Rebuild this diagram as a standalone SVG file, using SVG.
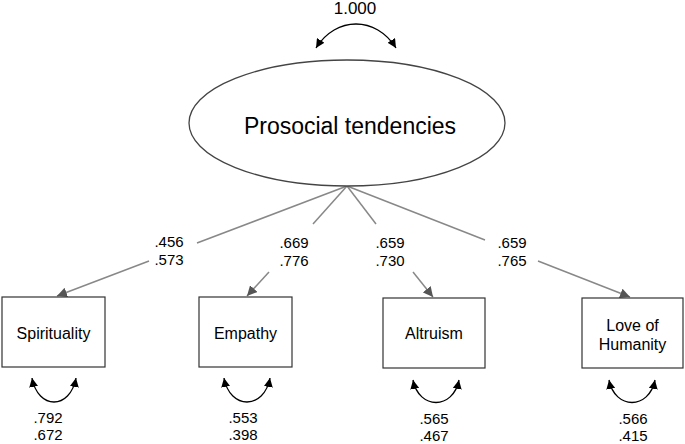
<svg xmlns="http://www.w3.org/2000/svg" width="685" height="444" viewBox="0 0 685 444">
<defs>
<marker id="ga" viewBox="0 0 10 10" refX="10" refY="5" markerWidth="10" markerHeight="10" markerUnits="userSpaceOnUse" orient="auto">
<path d="M0,0 L10,5 L0,10 z" fill="#555"/>
</marker>
<marker id="ba" viewBox="0 0 10 10" refX="10" refY="5" markerWidth="9" markerHeight="9" markerUnits="userSpaceOnUse" orient="auto-start-reverse">
<path d="M0,0 L10,5 L0,10 z" fill="#000"/>
</marker>
</defs>
<style>
text{font-family:"Liberation Sans",Arial,sans-serif;fill:#000;text-anchor:middle}
.box{fill:#fff;stroke:#333;stroke-width:1.2}
.lbl{font-size:16px}
.num{font-size:15px}
.ld{stroke:#888;stroke-width:1.5;fill:none}
.cv{stroke:#000;stroke-width:1.3;fill:none}
</style>
<g id="connectors">
<path class="cv" d="M316,48 C336,16 376,16 396,48" marker-start="url(#ba)" marker-end="url(#ba)"/>
<line class="ld" x1="347" y1="186" x2="197" y2="243"/>
<line class="ld" x1="149" y1="261" x2="57" y2="296" marker-end="url(#ga)"/>
<line class="ld" x1="347" y1="186" x2="313" y2="224"/>
<line class="ld" x1="269" y1="272" x2="247" y2="296" marker-end="url(#ga)"/>
<line class="ld" x1="347" y1="186" x2="376" y2="224"/>
<line class="ld" x1="413" y1="272" x2="433" y2="297" marker-end="url(#ga)"/>
<line class="ld" x1="347" y1="186" x2="485" y2="240"/>
<line class="ld" x1="538" y1="261" x2="630" y2="297" marker-end="url(#ga)"/>
<path class="cv" d="M32,378 C38,410 70,410 76,378" marker-start="url(#ba)" marker-end="url(#ba)"/>
<path class="cv" d="M224,378 C230,410 264,410 270,378" marker-start="url(#ba)" marker-end="url(#ba)"/>
<path class="cv" d="M413,380 C419,410 453,410 459,380" marker-start="url(#ba)" marker-end="url(#ba)"/>
<path class="cv" d="M609,380 C615,410 649,410 655,380" marker-start="url(#ba)" marker-end="url(#ba)"/>
<text class="num" x="169" y="247">.456</text>
<text class="num" x="169" y="265">.573</text>
<text class="num" x="294" y="248">.669</text>
<text class="num" x="294" y="266">.776</text>
<text class="num" x="390" y="248">.659</text>
<text class="num" x="390" y="266">.730</text>
<text class="num" x="512" y="248">.659</text>
<text class="num" x="512" y="266">.765</text>
<text class="num" x="48" y="423">.792</text>
<text class="num" x="48" y="440">.672</text>
<text class="num" x="243" y="423">.553</text>
<text class="num" x="243" y="440">.398</text>
<text class="num" x="434" y="424">.565</text>
<text class="num" x="434" y="441">.467</text>
<text class="num" x="633" y="424">.566</text>
<text class="num" x="633" y="441">.415</text>
</g>
<g id="latent">
<ellipse cx="347" cy="123" rx="158" ry="63" fill="#fff" stroke="#444" stroke-width="1.3"/>
<text x="350" y="134" style="font-size:23px">Prosocial tendencies</text>
<text x="355" y="14" style="font-size:17px">1.000</text>
</g>
<g id="spirituality">
<rect class="box" x="2" y="297" width="103" height="70"/>
<text class="lbl" x="53.5" y="339">Spirituality</text>
</g>
<g id="empathy">
<rect class="box" x="199" y="297" width="93" height="70"/>
<text class="lbl" x="245.5" y="339">Empathy</text>
</g>
<g id="altruism">
<rect class="box" x="383" y="298" width="102" height="70"/>
<text class="lbl" x="434" y="339">Altruism</text>
</g>
<g id="love">
<rect class="box" x="582" y="298" width="101" height="70"/>
<text class="lbl" x="632.5" y="331">Love of</text>
<text class="lbl" x="632.5" y="350">Humanity</text>
</g>
</svg>
